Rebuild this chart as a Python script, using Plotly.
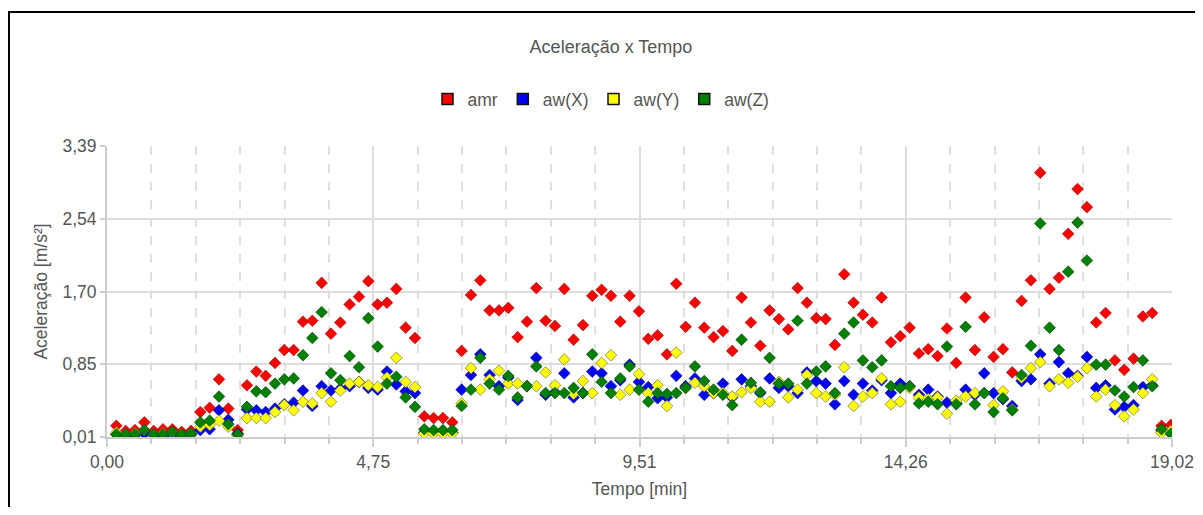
import plotly.graph_objects as go

# time of each sample, in seconds (converted to minutes for the axis)
time_s = [10, 20, 30, 40, 50, 60, 70, 80, 90, 100,
          110, 120, 130, 140, 150, 160, 170, 180, 190, 200,
          210, 220, 230, 240, 250, 260, 270, 280, 290, 300,
          310, 320, 330, 340, 350, 360, 370, 380, 390, 400,
          410, 420, 430, 440, 450, 460, 470, 480, 490, 500,
          510, 520, 530, 540, 550, 560, 570, 580, 590, 600,
          610, 620, 630, 640, 650, 660, 670, 680, 690, 700,
          710, 720, 730, 740, 750, 760, 770, 780, 790, 800,
          810, 820, 830, 840, 850, 860, 870, 880, 890, 900,
          910, 920, 930, 940, 950, 960, 970, 980, 990, 1000,
          1010, 1020, 1030, 1040, 1050, 1060, 1070, 1080, 1090, 1100,
          1110, 1120, 1130, 1140]
tempo_min = [s / 60 for s in time_s]

amr = [0.14, 0.08, 0.09, 0.18, 0.08, 0.10, 0.10, 0.07, 0.08, 0.30,
       0.35, 0.68, 0.34, 0.09, 0.61, 0.77, 0.72, 0.87, 1.02, 1.02,
       1.35, 1.36, 1.80, 1.21, 1.34, 1.55, 1.64, 1.82, 1.55, 1.57,
       1.73, 1.28, 1.16, 0.25, 0.23, 0.23, 0.18, 1.01, 1.66, 1.83,
       1.48, 1.48, 1.51, 1.17, 1.35, 1.74, 1.36, 1.30, 1.73, 1.14,
       1.31, 1.65, 1.72, 1.65, 1.35, 1.65, 1.47, 1.15, 1.19, 0.97,
       1.79, 1.29, 1.57, 1.28, 1.17, 1.24, 1.01, 1.63, 1.34, 1.07,
       1.48, 1.38, 1.26, 1.74, 1.57, 1.39, 1.38, 1.08, 1.90, 1.57,
       1.43, 1.34, 1.63, 1.11, 1.18, 1.28, 0.98, 1.03, 0.95, 1.27,
       0.87, 1.63, 1.02, 1.40, 0.94, 1.03, 0.76, 1.59, 1.83, 3.08,
       1.73, 1.86, 2.37, 2.89, 2.68, 1.34, 1.45, 0.90, 0.79, 0.92,
       1.41, 1.45, 0.14, 0.15]

aw_x = [0.04, 0.03, 0.03, 0.05, 0.03, 0.03, 0.04, 0.03, 0.04, 0.09,
        0.10, 0.32, 0.21, 0.05, 0.33, 0.32, 0.30, 0.34, 0.39, 0.41,
        0.55, 0.37, 0.60, 0.55, 0.57, 0.60, 0.65, 0.58, 0.56, 0.77,
        0.62, 0.54, 0.52, 0.06, 0.06, 0.06, 0.06, 0.56, 0.73, 0.97,
        0.73, 0.60, 0.70, 0.44, 0.60, 0.93, 0.50, 0.53, 0.75, 0.47,
        0.52, 0.77, 0.75, 0.60, 0.67, 0.85, 0.65, 0.59, 0.46, 0.47,
        0.72, 0.60, 0.69, 0.50, 0.52, 0.63, 0.47, 0.68, 0.60, 0.52,
        0.69, 0.58, 0.60, 0.52, 0.76, 0.66, 0.63, 0.39, 0.66, 0.50,
        0.63, 0.55, 0.67, 0.52, 0.63, 0.60, 0.50, 0.56, 0.48, 0.41,
        0.40, 0.56, 0.50, 0.75, 0.52, 0.45, 0.37, 0.66, 0.68, 0.97,
        0.63, 0.88, 0.75, 0.72, 0.94, 0.58, 0.61, 0.33, 0.36, 0.38,
        0.59, 0.61, 0.08, 0.05]

aw_y = [0.06, 0.04, 0.05, 0.09, 0.04, 0.05, 0.06, 0.04, 0.05, 0.13,
        0.15, 0.20, 0.13, 0.03, 0.23, 0.23, 0.23, 0.30, 0.38, 0.32,
        0.42, 0.40, 0.52, 0.42, 0.55, 0.63, 0.65, 0.61, 0.59, 0.70,
        0.93, 0.65, 0.59, 0.05, 0.05, 0.05, 0.05, 0.40, 0.81, 0.56,
        0.68, 0.78, 0.63, 0.63, 0.60, 0.60, 0.76, 0.61, 0.91, 0.51,
        0.66, 0.52, 0.87, 0.96, 0.50, 0.56, 0.74, 0.52, 0.61, 0.37,
        0.99, 0.58, 0.64, 0.60, 0.52, 0.52, 0.48, 0.53, 0.58, 0.42,
        0.42, 0.65, 0.47, 0.56, 0.73, 0.52, 0.48, 0.50, 0.82, 0.37,
        0.48, 0.52, 0.69, 0.39, 0.42, 0.58, 0.47, 0.45, 0.47, 0.28,
        0.43, 0.48, 0.52, 0.52, 0.38, 0.54, 0.33, 0.70, 0.81, 0.88,
        0.60, 0.68, 0.64, 0.71, 0.81, 0.48, 0.56, 0.38, 0.25, 0.33,
        0.52, 0.68, 0.06, 0.08]

aw_z = [0.04, 0.04, 0.04, 0.09, 0.04, 0.04, 0.07, 0.04, 0.05, 0.18,
        0.20, 0.48, 0.16, 0.04, 0.36, 0.54, 0.53, 0.63, 0.68, 0.69,
        0.96, 1.16, 1.46, 0.75, 0.67, 0.95, 0.82, 1.39, 1.06, 0.63,
        0.71, 0.47, 0.36, 0.10, 0.09, 0.09, 0.09, 0.37, 0.56, 0.93,
        0.63, 0.56, 0.72, 0.47, 0.60, 0.83, 0.52, 0.52, 0.52, 0.58,
        0.52, 0.97, 0.65, 0.52, 0.69, 0.83, 0.56, 0.42, 0.52, 0.51,
        0.52, 0.58, 0.83, 0.66, 0.56, 0.50, 0.38, 1.14, 0.64, 0.53,
        0.93, 0.63, 0.63, 1.36, 0.63, 0.77, 0.83, 0.52, 1.21, 1.34,
        0.90, 0.82, 0.90, 0.60, 0.58, 0.60, 0.40, 0.42, 0.39, 1.06,
        0.39, 1.29, 0.39, 0.52, 0.30, 0.46, 0.32, 0.73, 1.07, 2.49,
        1.28, 1.02, 1.93, 2.50, 2.06, 0.85, 0.85, 0.55, 0.48, 0.59,
        0.90, 0.60, 0.10, 0.05]

series_names = ["amr", "aw(X)", "aw(Y)", "aw(Z)"]
series_values = [amr, aw_x, aw_y, aw_z]
series_colors = ["#ff0000", "#0000ff", "#ffff00", "#008000"]
series_edges = ["rgba(120,0,0,0.55)", "rgba(0,0,90,0.6)",
                "rgba(90,90,60,0.6)", "rgba(0,60,0,0.6)"]

x_tick_vals = [0, 4.755, 9.51, 14.265, 19.02]
x_tick_text = ["0,00", "4,75", "9,51", "14,26", "19,02"]
y_tick_vals = [0.01, 0.855, 1.70, 2.545, 3.39]
y_tick_text = ["0,01", "0,85", "1,70", "2,54", "3,39"]

FONT = "Liberation Sans, Arial, sans-serif"
TXT = "#555555"

fig = go.Figure()
for name, vals, col, edge in zip(series_names, series_values, series_colors, series_edges):
    fig.add_trace(go.Scatter(
        x=tempo_min, y=vals, mode="markers", name=name, showlegend=False,
        marker=dict(symbol="diamond", size=9, color=col,
                    line=dict(color=edge, width=1)),
    ))
# legend entries (square swatches)
for name, col in zip(series_names, series_colors):
    fig.add_trace(go.Scatter(
        x=[None], y=[None], mode="markers", name=name, showlegend=True,
        marker=dict(symbol="square", size=11, color=col,
                    line=dict(color="#111111", width=1.5)),
    ))

# page body has an 8px offset; figure coordinates below are screen - 8
OFF = 8
W, H = 1203 - 2 * OFF, 515 - 2 * OFF
L, R, T, B = 107 - OFF, 1172 - OFF, 146 - OFF, 437 - OFF
pw, ph = R - L, B - T

fig.update_layout(
    width=W, height=H,
    margin=dict(l=L, r=W - R, t=T, b=H - B, pad=0, autoexpand=False),
    paper_bgcolor="white", plot_bgcolor="white",
    font=dict(family=FONT, size=17.5, color=TXT),
    title=dict(text="Aceleração x Tempo", x=(611 - OFF) / W, xanchor="center",
               y=1 - (47 - OFF) / H, yanchor="middle", xref="container", yref="container",
               font=dict(family=FONT, size=18, color=TXT)),
    legend=dict(orientation="h", x=(601 - OFF - L) / pw, xanchor="center",
                y=(B - (99 - OFF)) / ph, yanchor="middle",
                font=dict(family=FONT, size=17.5, color=TXT),
                bgcolor="rgba(0,0,0,0)", itemwidth=30),
    xaxis=dict(
        range=[0, 19.02], tickmode="array", tickvals=x_tick_vals, ticktext=x_tick_text,
        showgrid=True, gridcolor="#dddddd", gridwidth=1.5, automargin=False,
        showline=True, linecolor="#cccccc", linewidth=2,
        ticks="outside", ticklen=8, tickcolor="#cccccc", tickwidth=1.5,
        zeroline=False,
        tickfont=dict(family=FONT, size=17.5, color=TXT),
        minor=dict(tick0=0, dtick=19.02 / 24, showgrid=True, griddash="dash",
                   gridcolor="#e0e0e0", gridwidth=1.5, ticks="outside", ticklen=5,
                   tickcolor="#cccccc"),
        title=dict(text="Tempo [min]", standoff=12,
                   font=dict(family=FONT, size=17.5, color=TXT)),
    ),
    yaxis=dict(
        range=[0.01, 3.39], tickmode="array", tickvals=y_tick_vals, ticktext=y_tick_text,
        showgrid=True, gridcolor="#dddddd", gridwidth=1.5, automargin=False,
        showline=True, linecolor="#cccccc", linewidth=2,
        ticks="outside", ticklen=5, tickcolor="#cccccc", tickwidth=1.5,
        zeroline=False,
        tickfont=dict(family=FONT, size=17.5, color=TXT),
        title=dict(text="Aceleração [m/s²]", standoff=10,
                   font=dict(family=FONT, size=17.5, color=TXT)),
    ),
    shapes=[dict(type="rect", xref="paper", yref="paper",
                 x0=(1 - L) / pw, x1=(1240 - OFF - L) / pw,
                 y0=(B - 560) / ph, y1=(B - 4) / ph,
                 line=dict(color="black", width=2), fillcolor="rgba(0,0,0,0)",
                 layer="above")],
)

fig.write_html("out.html")
